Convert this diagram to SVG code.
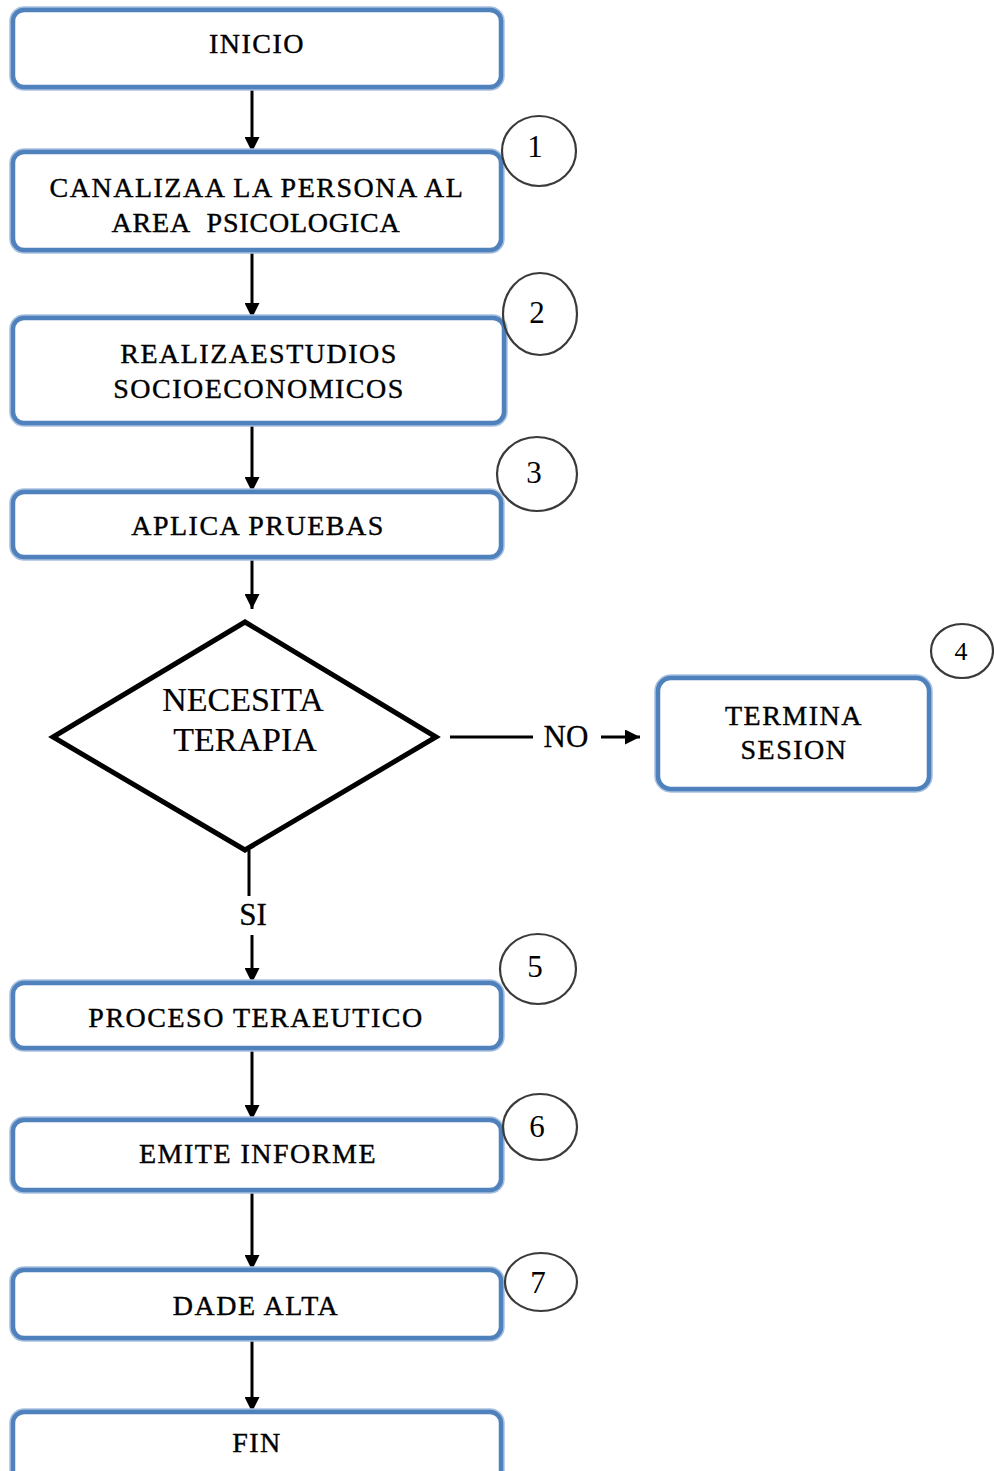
<svg xmlns="http://www.w3.org/2000/svg" width="994" height="1471" viewBox="0 0 994 1471">
  <style>
    .box { fill: #ffffff; stroke: #4f81bd; stroke-width: 4.5; }
    .halo { fill: none; stroke: #a9c1e0; stroke-width: 7.5; }
    .dec { fill: #ffffff; stroke: #000000; stroke-width: 5; stroke-linejoin: miter; }
    .num { fill: none; stroke: #3a3a3a; stroke-width: 2.2; }
    .lbl { font-family: "Liberation Serif", "Times New Roman", serif; font-size: 28px; fill: #000000; stroke: #000000; stroke-width: 0.4; text-anchor: middle; letter-spacing: 1.5px; }
    .dlbl { font-family: "Liberation Serif", "Times New Roman", serif; font-size: 34px; fill: #000000; stroke: #000000; stroke-width: 0.2; text-anchor: middle; }
    .nlbl { font-family: "Liberation Serif", "Times New Roman", serif; font-size: 31px; fill: #000000; text-anchor: middle; }
    .elbl { font-family: "Liberation Serif", "Times New Roman", serif; font-size: 31px; fill: #000000; stroke: #000000; stroke-width: 0.3; text-anchor: middle; }
    .edge { stroke: #000000; stroke-width: 3; fill: none; }
  </style>
  <defs>
    <marker id="arrow" viewBox="0 0 10 10" refX="10" refY="5" markerWidth="5" markerHeight="5" orient="auto" markerUnits="strokeWidth">
      <path d="M0,0 L10,5 L0,10 Z" fill="#000000"/>
    </marker>
  </defs>

  <rect width="994" height="1471" fill="#ffffff"/>

  <!-- connectors -->
  <g id="connectors">
    <line class="edge" x1="252" y1="87" x2="252" y2="152" marker-end="url(#arrow)"/>
    <line class="edge" x1="252" y1="250" x2="252" y2="318" marker-end="url(#arrow)"/>
    <line class="edge" x1="252" y1="423" x2="252" y2="492" marker-end="url(#arrow)"/>
    <line class="edge" x1="252" y1="557" x2="252" y2="609" marker-end="url(#arrow)"/>
    <line class="edge" x1="450" y1="737" x2="533" y2="737" stroke-width="2.2"/>
    <line class="edge" x1="601" y1="737" x2="640" y2="737" stroke-width="2.5" marker-end="url(#arrow)"/>
    <line class="edge" x1="249" y1="850" x2="249" y2="896"/>
    <line class="edge" x1="252" y1="935" x2="252" y2="983" marker-end="url(#arrow)"/>
    <line class="edge" x1="252" y1="1048" x2="252" y2="1120" marker-end="url(#arrow)"/>
    <line class="edge" x1="252" y1="1190" x2="252" y2="1270" marker-end="url(#arrow)"/>
    <line class="edge" x1="252" y1="1338" x2="252" y2="1412" marker-end="url(#arrow)"/>
    <text class="elbl" x="566" y="747">NO</text>
    <text class="elbl" x="253" y="925">SI</text>
  </g>

  <g id="inicio">
    <rect class="halo" x="13" y="10" width="488" height="77" rx="11"/>
    <rect class="box" x="13" y="10" width="488" height="77" rx="11"/>
    <text class="lbl" x="257" y="53">INICIO</text>
  </g>

  <g id="canaliza">
    <rect class="halo" x="13" y="152" width="488" height="98" rx="11"/>
    <rect class="box" x="13" y="152" width="488" height="98" rx="11"/>
    <text class="lbl" x="257" y="197">CANALIZAA LA PERSONA AL</text>
    <text class="lbl" x="256" y="232" style="letter-spacing:0.8px">AREA&#160; PSICOLOGICA</text>
    <ellipse class="num" cx="539" cy="151" rx="37" ry="35"/>
    <text class="nlbl" x="535" y="157">1</text>
  </g>

  <g id="estudios">
    <rect class="halo" x="13" y="318" width="491" height="105" rx="11"/>
    <rect class="box" x="13" y="318" width="491" height="105" rx="11"/>
    <text class="lbl" x="259" y="363">REALIZAESTUDIOS</text>
    <text class="lbl" x="259" y="398">SOCIOECONOMICOS</text>
    <ellipse class="num" cx="540" cy="314" rx="37" ry="41"/>
    <text class="nlbl" x="537" y="323">2</text>
  </g>

  <g id="pruebas">
    <rect class="halo" x="13" y="492" width="488" height="65" rx="11"/>
    <rect class="box" x="13" y="492" width="488" height="65" rx="11"/>
    <text class="lbl" x="258" y="535">APLICA PRUEBAS</text>
    <ellipse class="num" cx="537" cy="474" rx="40" ry="37"/>
    <text class="nlbl" x="534" y="483">3</text>
  </g>

  <g id="decision">
    <polygon class="dec" points="245,622 436,737 245,850 53,737"/>
    <text class="dlbl" x="243" y="711">NECESITA</text>
    <text class="dlbl" x="245" y="751">TERAPIA</text>
  </g>

  <g id="termina">
    <rect class="halo" x="658" y="678" width="271" height="111" rx="13"/>
    <rect class="box" x="658" y="678" width="271" height="111" rx="13"/>
    <text class="lbl" x="794" y="725">TERMINA</text>
    <text class="lbl" x="794" y="759">SESION</text>
    <ellipse class="num" cx="962" cy="651" rx="31" ry="27"/>
    <text class="nlbl" x="961" y="660" style="font-size:26px">4</text>
  </g>

  <g id="proceso">
    <rect class="halo" x="13" y="983" width="488" height="65" rx="11"/>
    <rect class="box" x="13" y="983" width="488" height="65" rx="11"/>
    <text class="lbl" x="256" y="1027">PROCESO TERAEUTICO</text>
    <ellipse class="num" cx="538" cy="969" rx="38" ry="35"/>
    <text class="nlbl" x="535" y="977">5</text>
  </g>

  <g id="informe">
    <rect class="halo" x="13" y="1120" width="488" height="70" rx="11"/>
    <rect class="box" x="13" y="1120" width="488" height="70" rx="11"/>
    <text class="lbl" x="258" y="1163">EMITE INFORME</text>
    <ellipse class="num" cx="540" cy="1127" rx="37" ry="33"/>
    <text class="nlbl" x="537" y="1137">6</text>
  </g>

  <g id="alta">
    <rect class="halo" x="13" y="1270" width="488" height="68" rx="11"/>
    <rect class="box" x="13" y="1270" width="488" height="68" rx="11"/>
    <text class="lbl" x="256" y="1315">DADE ALTA</text>
    <ellipse class="num" cx="541" cy="1282" rx="36" ry="29"/>
    <text class="nlbl" x="538" y="1293">7</text>
  </g>

  <g id="fin">
    <rect class="halo" x="13" y="1412" width="488" height="70" rx="11"/>
    <rect class="box" x="13" y="1412" width="488" height="70" rx="11"/>
    <text class="lbl" x="257" y="1452">FIN</text>
  </g>
</svg>
